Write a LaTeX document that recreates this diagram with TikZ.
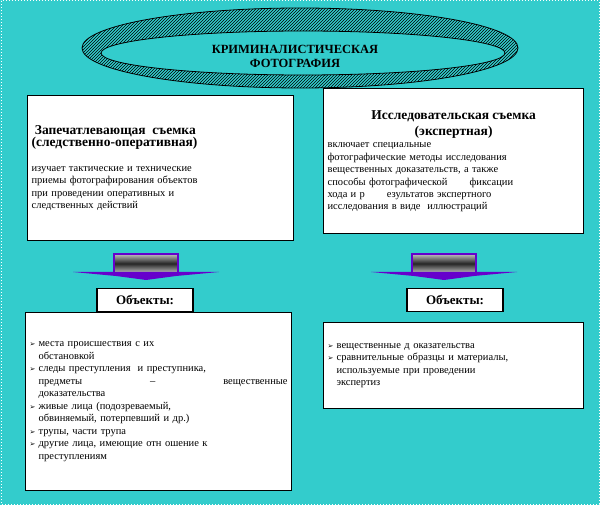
\documentclass[tikz,border=0pt]{standalone}
\usepackage{fontspec}
\setmainfont{Liberation Serif}
\newfontfamily\dv{DejaVu Sans}
\usetikzlibrary{patterns,shadings}
\definecolor{bg}{HTML}{33CCCC}
\definecolor{vio}{HTML}{6600CC}
\newcommand{\bul}{\makebox[9pt][l]{\dv\fontsize{7}{8}\selectfont ➢}}
\tikzset{
 wbox/.style={draw=black,line width=1.2pt,fill=white,inner sep=4pt,anchor=north west,align=left},
 objbox/.style={draw=black,line width=1.2pt,fill=white,minimum width=96pt,minimum height=23pt,font=\bfseries\fontsize{13}{14}\selectfont},
 bodyt/.style={font=\fontsize{10.5}{12.5}\selectfont}
}
\begin{document}
\begin{tikzpicture}[x=1pt,y=-1pt]
\useasboundingbox (0,0) rectangle (600,505);
\fill[bg] (0,0) rectangle (600,505);
\draw[white,dotted,line width=1pt] (1,1) rectangle (599,504);
% ellipse ring
\path[pattern=north east lines,even odd rule,draw=black,line width=0.8pt]
  (300,48) ellipse [x radius=218,y radius=40] (303,53) ellipse [x radius=202,y radius=22];
\node[font=\bfseries\fontsize{12.5}{14}\selectfont,align=center] (title) at (295,56) {КРИМИНАЛИСТИЧЕСКАЯ\\ФОТОГРАФИЯ};
% top boxes
\node[wbox,text width=258pt,minimum height=145pt] (lt) at (27,95) {%
 {\bfseries\fontsize{13.5}{16}\selectfont\ Запечатлевающая\ \ съемка\\(следственно-оперативная)}\\[12pt]
 {\fontsize{10.5}{12.5}\selectfont изучает тактические и технические\\приемы фотографирования объектов\\при проведении оперативных и\\следственных действий}};
\node[wbox,text width=252pt,minimum height=145pt] (rt) at (323,88) {%
 {\bfseries\fontsize{13.5}{16}\selectfont\centering Исследовательская съемка\\(экспертная)\par}
 {\fontsize{10.5}{12.5}\selectfont включает специальные\\фотографические методы исследования\\вещественных доказательств, а также\\способы фотографической\hspace{22pt}фиксации\\хода и р\hspace{22pt}езультатов экспертного\\исследования в виде\ \ иллюстраций}};
% arrows
\foreach \c/\n in {146/la,444/ra}{
 \shade[top color=gray!50,bottom color=gray!50,middle color=black!85,draw=vio,line width=1.5pt]
   (\c-32,254) rectangle (\c+32,273);
 \fill[vio] (\c-73,272) -- (\c+73,272) -- (\c+30,276) -- (\c,280) -- (\c-30,276) -- cycle;
 \coordinate (\n) at (\c,280);
}
% objects labels
\node[objbox] (lo) at (145,300) {Объекты:};
\node[objbox] (ro) at (455,300) {Объекты:};
% lower boxes
\node[wbox,text width=258pt,minimum height=178pt,bodyt,anchor=north west] (lb) at (25,312) {%
 \bul места происшествия с их\\\hspace*{9pt}обстановкой\\
 \bul следы преступления\ \ и преступника,\\\hspace*{9pt}предметы\hfill --\hfill вещественные\\\hspace*{9pt}доказательства\\
 \bul живые лица (подозреваемый,\\\hspace*{9pt}обвиняемый, потерпевший и др.)\\
 \bul трупы, части трупа\\
 \bul другие лица, имеющие отн ошение к\\\hspace*{9pt}преступлениям};
\node[wbox,text width=252pt,minimum height=86pt,bodyt,anchor=north west] (rb) at (323,322) {%
 \bul вещественные д оказательства\\
 \bul сравнительные образцы и материалы,\\\hspace*{9pt}используемые при проведении\\\hspace*{9pt}экспертиз};
\end{tikzpicture}
\end{document}
